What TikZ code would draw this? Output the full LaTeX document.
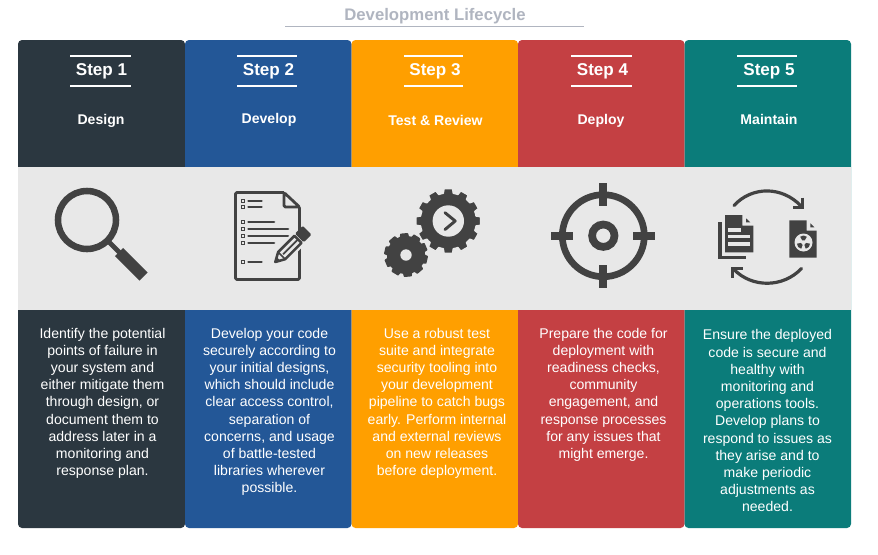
\documentclass[tikz,border=0pt]{standalone}
\usepackage{fontspec}
\usetikzlibrary{calc}
\setmainfont{Liberation Sans}
\definecolor{cdark}{HTML}{2B3740}
\definecolor{cblue}{HTML}{235797}
\definecolor{corange}{HTML}{FF9F00}
\definecolor{cred}{HTML}{C44043}
\definecolor{cteal}{HTML}{0B7C7A}
\definecolor{cband}{HTML}{E8E8E8}
\definecolor{cicon}{HTML}{424242}
\definecolor{ctitle}{HTML}{B0B5C0}
\newcommand{\gearshape}[7]{% x y outer root teeth phase halo
  \begin{scope}[shift={(#1,#2)}]
    \pgfmathsetmacro{\gstep}{360/#5}
    \path[fill=cicon,draw=#7,line width=1.1pt,line join=round]
      ({#6-0.25*\gstep}:#3)
      \foreach \gi in {1,...,#5}{
        -- ({#6+(\gi-1)*\gstep+0.25*\gstep}:#3)
        -- ({#6+(\gi-1)*\gstep+0.34*\gstep}:#4)
        -- ({#6+(\gi-1)*\gstep+0.5*\gstep}:#4)
        -- ({#6+(\gi-1)*\gstep+0.66*\gstep}:#4)
        -- ({#6+(\gi-1)*\gstep+0.75*\gstep}:#3)
      } -- cycle;
  \end{scope}}
\newcommand{\blade}[2]{% from angle, to angle around the hazard mark centre
  \fill[cicon] ($(803.5,242.5)+(#1:2.6)$) -- ($(803.5,242.5)+(#1:6.6)$) -- ($(803.5,242.5)+({(#1+#2)/2}:7)$) -- ($(803.5,242.5)+(#2:6.6)$) -- ($(803.5,242.5)+(#2:2.6)$) -- cycle;}
\tikzset{
  x=0.75pt,y=-0.75pt,
  panel/.style={rounded corners=3pt},
  steplabel/.style={text=white,font=\bfseries\fontsize{12.8pt}{15pt}\selectfont,inner sep=0pt},
  phase/.style={text=white,font=\bfseries\fontsize{10.55pt}{12pt}\selectfont,inner sep=0pt},
  body/.style={text=white,font=\fontsize{10.55pt}{12.9pt}\selectfont,align=center,inner sep=0pt,anchor=north},
  rule/.style={draw=white,line width=1.5pt},
  ink/.style={draw=cicon,line cap=butt},
}
\begin{document}
\begin{tikzpicture}
\useasboundingbox[fill=white] (0,0) rectangle (878,554);
% title
\node[text=ctitle,font=\bfseries\fontsize{12.55pt}{14pt}\selectfont,inner sep=0pt] (title) at (435,16) {Development Lifecycle};
\draw[draw=ctitle,line width=1pt] (285,26.5) -- (584,26.5);
% columns
\foreach \xa/\xb/\col in {18/185/cdark,185/351.5/cblue,351.5/518/corange,518/684.5/cred,684.5/851/cteal}{
  \fill[\col,panel] (\xa,40) rectangle (\xb,528);
}
\fill[cband] (18,167) rectangle (851,310);
% step headers
\foreach \xa/\xb/\cx/\nm/\lbl in {70/131/101.5/sa/Step 1,237/297/268.5/sb/Step 2,404/463/435/sc/Step 3,571/632/602.5/sd/Step 4,737/797/769/se/Step 5}{
  \draw[rule] (\xa,55.5) -- (\xb,55.5);
  \draw[rule] (\xa,85.5) -- (\xb,85.5);
  \node[steplabel] (\nm) at (\cx,71) {\lbl};
}
\node[phase] (pa) at (101,120.5) {Design};
\node[phase] (pb) at (269,119.5) {Develop};
\node[phase] (pc) at (435.5,120.5) {Test \& Review};
\node[phase] (pd) at (601,120.5) {Deploy};
\node[phase] (pe) at (769,119.5) {Maintain};
% body text
\node[body] (ba) at (102.5,325.7) {\strut Identify the potential\\points of failure in\\your system and\\either mitigate them\\through design, or\\document them to\\address later in a\\monitoring and\\response plan.};
\node[body] (bb) at (269.5,325.7) {\strut Develop your code\\securely according to\\your initial designs,\\which should include\\clear access control,\\separation of\\concerns, and usage\\of battle-tested\\libraries wherever\\possible.};
\node[body] (bc) at (437,325.7) {\strut Use a robust test\\suite and integrate\\security tooling into\\your development\\pipeline to catch bugs\\early. Perform internal\\and external reviews\\on new releases\\before deployment.};
\node[body] (bd) at (603.5,325.7) {\strut Prepare the code for\\deployment with\\readiness checks,\\community\\engagement, and\\response processes\\for any issues that\\might emerge.};
\node[body] (be) at (767.5,327.5) {\strut Ensure the deployed\\code is secure and\\healthy with\\monitoring and\\operations tools.\\Develop plans to\\respond to issues as\\they arise and to\\make periodic\\adjustments as\\needed.};
% magnifier
\draw[ink,line width=4.9pt] (87,220) circle (29);
\draw[ink,line width=3.6pt] (109,242) -- (120,253);
\draw[cicon,line width=8.6pt,line join=round] (119,252) -- (143.5,276.5);
% document
\draw[ink,line width=2.1pt,line join=round,rounded corners=1pt]
  (284,192.5) -- (235.5,192.5) -- (235.5,279.5) -- (299.5,279.5) -- (299.5,207) -- (284,192.5) -- (284,207) -- (299.5,207);
\foreach \yy/\xe in {201/261.5,207/261.5,222/274,229/288,236/288,243/274,262/261.5}{
  \draw[ink,line width=0.9pt] (241.2,\yy-1.8) rectangle (244.8,\yy+1.8);
  \draw[ink,line width=2pt,line cap=round] (248.5,\yy) -- (\xe,\yy);
}
\begin{scope}[shift={(275.3,262)},rotate=45]
  \fill[cband] (-2,-8.5) rectangle (35,8.5);
  \draw[ink,line width=1.9pt,line join=round] (0,0) -- (9,-5) -- (32,-5) -- (32,5) -- (9,5) -- cycle;
  \draw[ink,line width=1.2pt] (9,-5) -- (9,5);
  \draw[ink,line width=1.3pt] (11,0) -- (32,0);
  \fill[cicon,rounded corners=1pt] (34,-6.2) rectangle (45,6.2);
  \fill[cicon] (0,0) -- (4.5,-2.5) -- (4.5,2.5) -- cycle;
\end{scope}
% gears
\gearshape{406}{255}{21.3}{18.3}{10}{85}{cicon}
\fill[cband] (406,255) circle (5.7);
\gearshape{448.3}{221}{32.7}{28.2}{12}{90}{cband}
\fill[cband] (448.3,221) circle (15.7);
\draw[ink,line width=2.2pt,line cap=round,line join=round] (445,212.7) -- (455.2,221) -- (445,229.5);
% target
\draw[ink,line width=5pt] (603.3,235.7) circle (41);
\draw[ink,line width=5.8pt] (603.3,235.7) circle (11.2);
\draw[ink,line width=5.8pt] (603.3,183.3) -- (603.3,206);
\draw[ink,line width=5.8pt] (603.3,265.3) -- (603.3,287.7);
\draw[ink,line width=5.8pt] (551,235.7) -- (573.3,235.7);
\draw[ink,line width=5.8pt] (633,235.7) -- (655,235.7);
% cycle arrows
\coordinate (upfrom) at (734,205.5);
\coordinate (upto) at (801,206);
\coordinate (lowfrom) at (801.5,268.5);
\coordinate (lowto) at (734,269.5);
\draw[ink,line width=2.4pt,line cap=round] (upfrom) .. controls (752,186) and (782,186) .. (upto);
\draw[ink,line width=2.5pt] (802.3,197.5) -- (802.3,207.3) -- (792.5,207.3);
\draw[ink,line width=2.4pt,line cap=round] (lowfrom) .. controls (783,288) and (752,288) .. (lowto);
\draw[ink,line width=2.5pt] (732.7,277.5) -- (732.7,268.3) -- (742.5,268.3);
% documents
\fill[cicon] (725,215) -- (742.3,215) -- (742.3,225.7) -- (753.3,225.7) -- (753.3,252.3) -- (725,252.3) -- cycle;
\fill[cicon] (746,218.3) -- (750.3,222.3) -- (746,222.3) -- cycle;
\fill[cband] (728.3,227.7) rectangle (741,231.7);
\fill[cband] (728.3,234.7) rectangle (750,238.3);
\fill[cband] (728.3,241.7) rectangle (750,245.7);
\fill[cicon] (717.7,222.3) rectangle (721.5,259.3);
\fill[cicon] (717.7,255.9) rectangle (746.3,259.3);
\fill[cicon] (789.3,220.3) -- (806.7,220.3) -- (806.7,230.7) -- (816.7,230.7) -- (816.7,257.7) -- (789.3,257.7) -- cycle;
\fill[cicon] (810.3,223.3) -- (814.3,227.3) -- (810.3,227.3) -- cycle;
\fill[cband] (803.5,242.5) circle (9);
\blade{110}{170}
\blade{10}{70}
\blade{240}{300}
\end{tikzpicture}
\end{document}
